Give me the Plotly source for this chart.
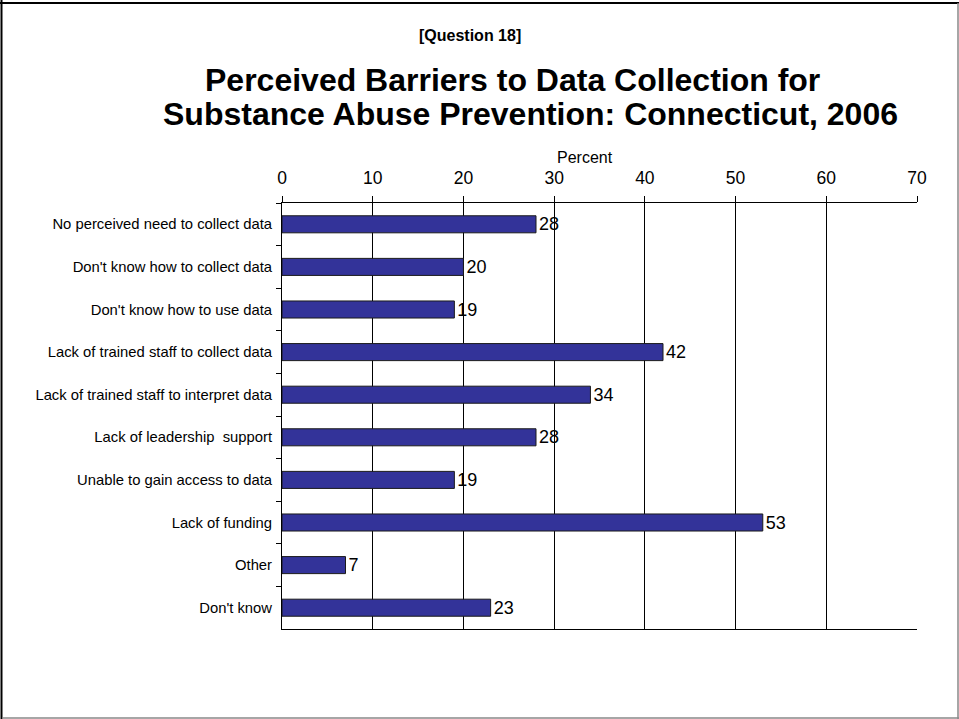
import plotly.graph_objects as go

categories = [
    "No perceived need to collect data",
    "Don't know how to collect data",
    "Don't know how to use data",
    "Lack of trained staff to collect data",
    "Lack of trained staff to interpret data",
    "Lack of leadership  support",
    "Unable to gain access to data",
    "Lack of funding",
    "Other",
    "Don't know",
]
values = [28, 20, 19, 42, 34, 28, 19, 53, 7, 23]
x_ticks = [0, 10, 20, 30, 40, 50, 60, 70]

W, H = 959, 719
L, R, T, B = 282, 917, 203, 629
ml, mr, mt, mb = L, W - R, T, H - B

def px_x(p):
    return (p - L) / (R - L)

def px_y(p):
    return (B - p) / (B - T)

font = "Liberation Sans, Arial, sans-serif"

fig = go.Figure(go.Bar(
    x=values, y=categories, orientation="h",
    marker=dict(color="#333399", line=dict(color="#1a1a1a", width=1)),
    width=0.4,
    text=values, texttemplate="%{x}", textposition="outside",
    textfont=dict(family=font, size=18, color="black"),
    constraintext="none",
    cliponaxis=False,
))

fig.update_layout(
    width=W, height=H,
    margin=dict(l=ml, r=mr, t=mt, b=mb, autoexpand=False),
    paper_bgcolor="white", plot_bgcolor="white",
    showlegend=False,
    font=dict(family=font, color="black"),
    xaxis=dict(
        side="top", range=[0, 70], tickvals=x_ticks,
        showgrid=True, gridcolor="black", gridwidth=1,
        showline=True, linecolor="black", linewidth=1, mirror=True,
        ticks="outside", ticklen=6, tickcolor="black",
        tickfont=dict(size=17.5, family=font), ticklabelstandoff=5,
        zeroline=False,
    ),
    yaxis=dict(
        type="category", categoryorder="array", categoryarray=categories,
        autorange="reversed",
        showline=True, linecolor="black", linewidth=1,
        ticks="outside", ticklen=5, tickcolor="black", tickson="boundaries",
        tickfont=dict(size=14.8, family=font), ticklabelstandoff=6, showgrid=False,
    ),
    annotations=[
        dict(text="Percent", x=px_x(585), y=px_y(157), xref="paper", yref="paper",
             showarrow=False, font=dict(size=16, family=font), xanchor="center", yanchor="middle"),
        dict(text="<b>[Question 18]</b>", x=px_x(470), y=px_y(35), xref="paper", yref="paper",
             showarrow=False, font=dict(size=16, family=font), xanchor="center", yanchor="middle"),
        dict(text="<b>Perceived Barriers to Data Collection for</b>", x=px_x(512), y=px_y(80),
             xref="paper", yref="paper", showarrow=False,
             font=dict(size=32, family=font), xanchor="center", yanchor="middle"),
        dict(text="<b>Substance Abuse Prevention: Connecticut, 2006</b>", x=px_x(530), y=px_y(114),
             xref="paper", yref="paper", showarrow=False,
             font=dict(size=32, family=font), xanchor="center", yanchor="middle"),
    ],
    shapes=[
        dict(type="line", xref="paper", yref="paper", x0=px_x(1.5), x1=px_x(1.5), y0=px_y(0), y1=px_y(719),
             line=dict(color="black", width=2)),
        dict(type="line", xref="paper", yref="paper", x0=px_x(0), x1=px_x(959), y0=px_y(3), y1=px_y(3),
             line=dict(color="black", width=2)),
        dict(type="line", xref="paper", yref="paper", x0=px_x(958), x1=px_x(958), y0=px_y(3), y1=px_y(719),
             line=dict(color="#888888", width=1.5)),
        dict(type="line", xref="paper", yref="paper", x0=px_x(3), x1=px_x(959), y0=px_y(718), y1=px_y(718),
             line=dict(color="#888888", width=1.5)),
    ],
)

fig.write_html("out.html", config={"displayModeBar": False},
               post_script="document.body.style.margin='0';document.body.style.overflow='hidden';")
